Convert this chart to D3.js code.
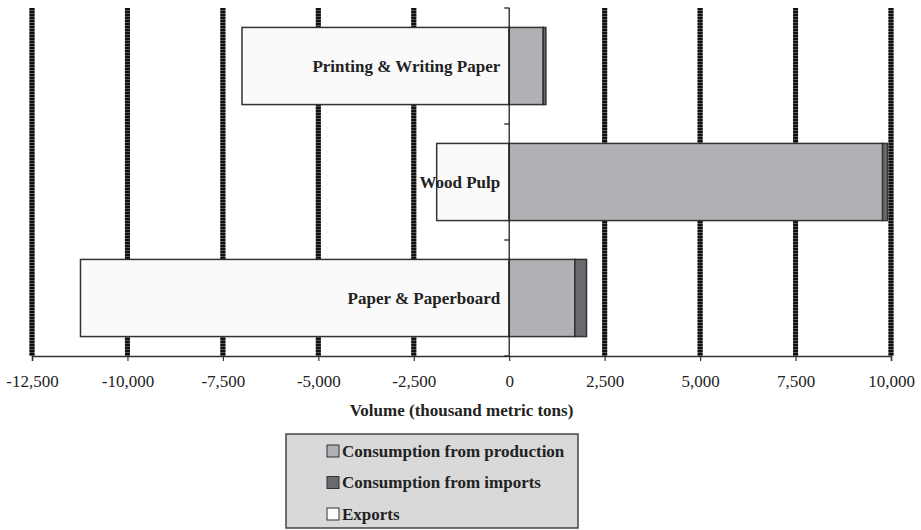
<!DOCTYPE html>
<html><head><meta charset="utf-8">
<script src="https://cdn.jsdelivr.net/npm/d3@7"></script>
<style>body{margin:0;background:#fff}svg{display:block}</style>
</head><body>
<svg id="chart" width="921" height="530"></svg>
<script>
const categories = ["Printing & Writing Paper", "Wood Pulp", "Paper & Paperboard"];
const exportsVals = [-7000, -1900, -11230];
const productionVals = [890, 9780, 1720];
const importsVals = [70, 130, 305];
const tickValues = [-12500, -10000, -7500, -5000, -2500, 0, 2500, 5000, 7500, 10000];
const seriesNames = ["Consumption from production", "Consumption from imports", "Exports"];
const seriesColors = ["#b0b1b4", "#6a6a6e", "#fafafa"];

(function () {
const svg = d3.select("#chart");
const pL = 32, pR = 891, pT = 8, pB = 356;
const x = d3.scaleLinear().domain([-12500, 10000]).range([pL, pR]);
const y = d3.scaleBand().domain(categories).range([pT, pB]).paddingInner(0.335).paddingOuter(0.1675);
const serif = "'Liberation Serif','Times New Roman',serif";

// gridlines
const grid = svg.append("g");
tickValues.filter(v => v !== 0).forEach(v => {
  grid.append("line").attr("x1", x(v)).attr("x2", x(v)).attr("y1", pT).attr("y2", pB)
    .attr("stroke", "#555").attr("stroke-width", 5);
  grid.append("line").attr("x1", x(v)).attr("x2", x(v)).attr("y1", pT).attr("y2", pB)
    .attr("stroke", "#111").attr("stroke-width", 5).attr("stroke-dasharray", "2,1");
});

// bars
const data = categories.map((c, i) => ({c, e: exportsVals[i], p: productionVals[i], m: importsVals[i]}));
const bars = svg.append("g");
data.forEach(d => {
  const yy = y(d.c), h = y.bandwidth();
  bars.append("rect").attr("x", x(d.e)).attr("y", yy).attr("width", x(0) - x(d.e)).attr("height", h)
    .attr("fill", seriesColors[2]).attr("stroke", "#333").attr("stroke-width", 1.5);
  bars.append("rect").attr("x", x(0)).attr("y", yy).attr("width", x(d.p) - x(0)).attr("height", h)
    .attr("fill", seriesColors[0]).attr("stroke", "#333").attr("stroke-width", 1.5);
  bars.append("rect").attr("x", x(d.p)).attr("y", yy).attr("width", x(d.p + d.m) - x(d.p)).attr("height", h)
    .attr("fill", seriesColors[1]).attr("stroke", "#333").attr("stroke-width", 1.5);
});

// x axis
const fmt = d3.format(",");
const xAxis = d3.axisBottom(x).tickValues(tickValues).tickSize(5).tickPadding(14)
  .tickFormat(d => fmt(d).replace("\u2212", "-"));
const gx = svg.append("g").attr("transform", `translate(0,${pB})`).call(xAxis);
gx.select(".domain").attr("stroke", "#333").attr("stroke-width", 1.5);
gx.selectAll(".tick line").attr("stroke", "#333").attr("stroke-width", 1.2);
gx.selectAll(".tick text").attr("font-family", serif).attr("font-size", 17).attr("fill", "#222");

// y axis at zero
const yTicks = [pT, pT + (pB - pT) / 3, pT + 2 * (pB - pT) / 3, pB];
const gy = svg.append("g");
gy.append("line").attr("x1", x(0)).attr("x2", x(0)).attr("y1", pT).attr("y2", pB)
  .attr("stroke", "#222").attr("stroke-width", 1.3);
yTicks.forEach(t => gy.append("line").attr("x1", x(0) - 5).attr("x2", x(0)).attr("y1", t).attr("y2", t)
  .attr("stroke", "#222").attr("stroke-width", 1.3));

// category labels
svg.append("g").selectAll("text").data(categories).join("text")
  .attr("x", x(0) - 9).attr("y", d => y(d) + y.bandwidth() / 2).attr("dy", "0.35em")
  .attr("text-anchor", "end").attr("font-family", serif).attr("font-weight", "bold")
  .attr("font-size", 17).attr("fill", "#222").text(d => d);

// axis title
svg.append("text").attr("x", (pL + pR) / 2).attr("y", 416).attr("text-anchor", "middle")
  .attr("font-family", serif).attr("font-weight", "bold").attr("font-size", 17).attr("fill", "#222")
  .text("Volume (thousand metric tons)");

// legend
const lg = svg.append("g");
lg.append("rect").attr("x", 286).attr("y", 434).attr("width", 292).attr("height", 94)
  .attr("fill", "#d9d9d9").attr("stroke", "#444").attr("stroke-width", 1.5);
seriesNames.forEach((n, i) => {
  const cy = 451 + i * 31.5;
  lg.append("rect").attr("x", 327).attr("y", cy - 6).attr("width", 12).attr("height", 12)
    .attr("fill", seriesColors[i]).attr("stroke", "#333").attr("stroke-width", 1);
  lg.append("text").attr("x", 342).attr("y", cy).attr("dy", "0.35em")
    .attr("font-family", serif).attr("font-weight", "bold").attr("font-size", 17).attr("fill", "#222").text(n);
});
})();
</script>
</body></html>
